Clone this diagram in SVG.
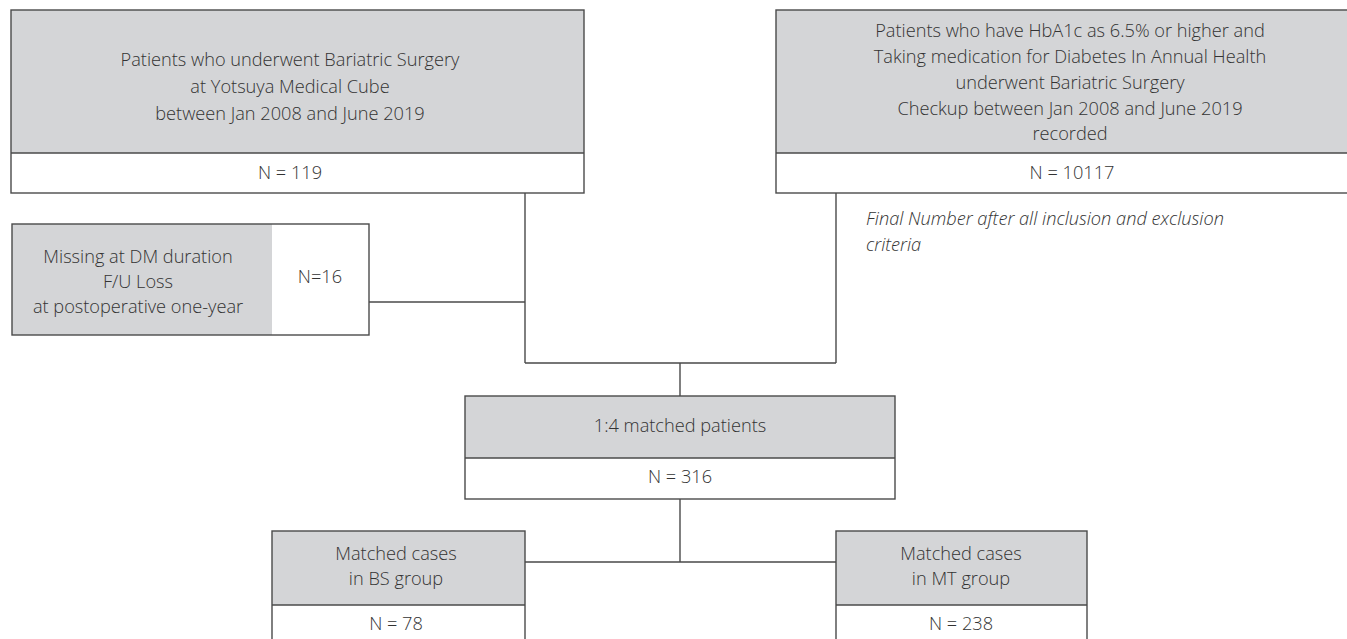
<svg xmlns="http://www.w3.org/2000/svg" width="1347" height="639" viewBox="0 0 1347 639">
<style>
.g{fill:#d4d5d7;stroke:none}
.w{fill:#ffffff;stroke:none}
.b{fill:none;stroke:#4a4a4a;stroke-width:1.4}
.l{fill:none;stroke:#4a4a4a;stroke-width:1.4}
text{font-family:"Open Sans","Noto Sans","Liberation Sans",sans-serif;font-size:18.2px;font-weight:300;fill:#333333;text-anchor:middle}
.it{font-style:italic;text-anchor:start}
</style>
<rect width="1347" height="639" fill="#ffffff"/>
<g id="connectors">
<path class="l" d="M525 193V363M836 193V363M525 363H836M680 363V396"/>
<path class="l" d="M369 302H525"/>
<path class="l" d="M680 499V562M525 562H836"/>
</g>
<g id="node-surgery">
<rect class="g" x="11" y="10" width="573" height="143"/>
<rect class="w" x="11" y="153" width="573" height="40"/>
<rect class="b" x="11" y="10" width="573" height="183"/>
<line class="b" x1="11" y1="153" x2="584" y2="153"/>
<text x="290" y="66">Patients who underwent Bariatric Surgery</text>
<text x="290" y="93">at Yotsuya Medical Cube</text>
<text x="290" y="120">between Jan 2008 and June 2019</text>
<text x="290" y="179">N = 119</text>
</g>
<g id="node-hba1c">
<rect class="g" x="776" y="10" width="590" height="143"/>
<rect class="w" x="776" y="153" width="590" height="40"/>
<rect class="b" x="776" y="10" width="590" height="183"/>
<line class="b" x1="776" y1="153" x2="1366" y2="153"/>
<text x="1070" y="37">Patients who have HbA1c as 6.5% or higher and</text>
<text x="1070" y="63">Taking medication for Diabetes In Annual Health</text>
<text x="1070" y="89">underwent Bariatric Surgery</text>
<text x="1070" y="115">Checkup between Jan 2008 and June 2019</text>
<text x="1070" y="140">recorded</text>
<text x="1072" y="179">N = 10117</text>
</g>
<g id="note">
<text class="it" x="866" y="225">Final Number after all inclusion and exclusion</text>
<text class="it" x="866" y="251">criteria</text>
</g>
<g id="node-missing">
<rect class="g" x="12" y="224" width="260" height="111"/>
<rect class="w" x="272" y="224" width="97" height="111"/>
<rect class="b" x="12" y="224" width="357" height="111"/>
<text x="138" y="263">Missing at DM duration</text>
<text x="138" y="288">F/U Loss</text>
<text x="138" y="313">at postoperative one-year</text>
<text x="320" y="283">N=16</text>
</g>
<g id="node-matched">
<rect class="g" x="465" y="396" width="430" height="62"/>
<rect class="w" x="465" y="458" width="430" height="41"/>
<rect class="b" x="465" y="396" width="430" height="103"/>
<line class="b" x1="465" y1="458" x2="895" y2="458"/>
<text x="680" y="432">1:4 matched patients</text>
<text x="680" y="483">N = 316</text>
</g>
<g id="node-bs">
<rect class="g" x="272" y="531" width="253" height="74"/>
<rect class="w" x="272" y="605" width="253" height="40"/>
<rect class="b" x="272" y="531" width="253" height="114"/>
<line class="b" x1="272" y1="605" x2="525" y2="605"/>
<text x="396" y="560">Matched cases</text>
<text x="396" y="585">in BS group</text>
<text x="396" y="630">N = 78</text>
</g>
<g id="node-mt">
<rect class="g" x="836" y="531" width="251" height="74"/>
<rect class="w" x="836" y="605" width="251" height="40"/>
<rect class="b" x="836" y="531" width="251" height="114"/>
<line class="b" x1="836" y1="605" x2="1087" y2="605"/>
<text x="961" y="560">Matched cases</text>
<text x="961" y="585">in MT group</text>
<text x="961" y="630">N = 238</text>
</g>
</svg>
